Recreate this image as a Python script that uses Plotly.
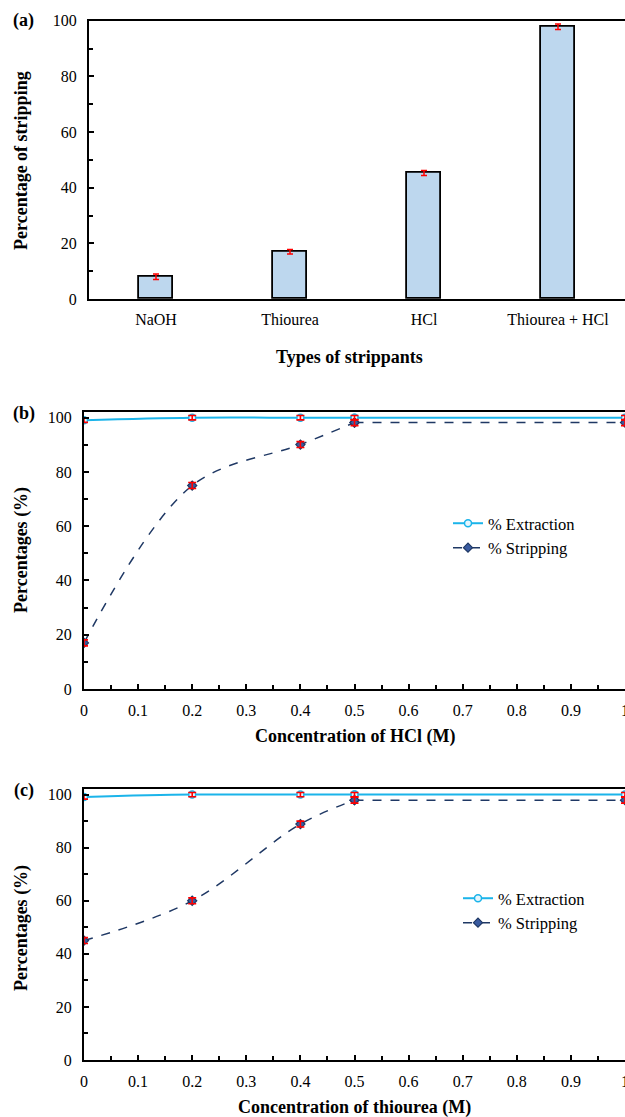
import plotly.graph_objects as go

# ---- data ----
strippants = ["NaOH", "Thiourea", "HCl", "Thiourea + HCl"]
strip_pct = [8.0, 17.0, 45.3, 97.8]
strip_err = [1.0, 0.8, 0.9, 1.0]

conc_hcl = [0, 0.2, 0.4, 0.5, 1.0]
extr_hcl = [99.1, 100.0, 100.0, 100.0, 100.0]
extr_hcl_err = [0.8, 0.8, 0.8, 0.8, 0.8]
strp_hcl = [17.0, 75.0, 90.1, 98.2, 98.2]
strp_hcl_err = [1.1, 1.1, 1.1, 1.1, 1.1]

conc_thio = [0, 0.2, 0.4, 0.5, 1.0]
extr_thio = [99.1, 100.0, 100.0, 100.0, 100.0]
extr_thio_err = [0.8, 0.8, 0.8, 0.8, 0.8]
strp_thio = [45.0, 60.0, 88.9, 97.9, 97.9]
strp_thio_err = [1.1, 1.1, 1.1, 1.1, 1.1]

FONT = "Liberation Serif, Times New Roman, serif"
W, H = 625, 1117
EXT_C = "#1BB4EA"
STR_C = "#1F3864"

def py(p):
    return 1 - p / H

def px(p):
    return p / W

fig = go.Figure()

# (a) bars
fig.add_trace(go.Bar(
    x=strippants, y=strip_pct, width=0.25,
    marker=dict(color="#BDD7EE", line=dict(color="black", width=1.8)),
    error_y=dict(type="data", array=strip_err, color="red", thickness=1.5, width=3),
    showlegend=False, xaxis="x", yaxis="y"))

def series(xv, yv, name, line, marker, xa, ya, leg):
    # smooth part (0 .. 0.5)
    fig.add_trace(go.Scatter(
        x=xv[:4], y=yv[:4], mode="lines+markers", name=name,
        line=dict(shape="spline", **line), marker=marker,
        xaxis=xa, yaxis=ya, legend=leg))
    # plateau part (0.5 .. 1)
    fig.add_trace(go.Scatter(
        x=xv[3:], y=yv[3:], mode="lines+markers", name=name, showlegend=False,
        line=dict(shape="spline", **line), marker=marker,
        xaxis=xa, yaxis=ya, legend=leg))

def errbars(xv, yv, ev, xa, ya):
    fig.add_trace(go.Scatter(
        x=xv, y=yv, mode="markers", showlegend=False, hoverinfo="skip",
        marker=dict(size=1, color="rgba(0,0,0,0)"),
        error_y=dict(type="data", array=ev, color="red", thickness=1.6, width=4),
        xaxis=xa, yaxis=ya))

ext_line = dict(color=EXT_C, width=2)
ext_marker = dict(symbol="circle", size=7, color="#E6F6FD", line=dict(color=EXT_C, width=1.5))
str_line = dict(color=STR_C, width=1.5, dash="dash")
str_marker = dict(symbol="diamond", size=7, color="#3A5BA0", line=dict(color=STR_C, width=1.2))

series(conc_hcl, extr_hcl, "% Extraction", ext_line, ext_marker, "x2", "y2", "legend")
series(conc_hcl, strp_hcl, "% Stripping", str_line, str_marker, "x2", "y2", "legend")
series(conc_thio, extr_thio, "% Extraction", ext_line, ext_marker, "x3", "y3", "legend2")
series(conc_thio, strp_thio, "% Stripping", str_line, str_marker, "x3", "y3", "legend2")
errbars(conc_hcl, extr_hcl, extr_hcl_err, "x2", "y2")
errbars(conc_hcl, strp_hcl, strp_hcl_err, "x2", "y2")
errbars(conc_thio, extr_thio, extr_thio_err, "x3", "y3")
errbars(conc_thio, strp_thio, strp_thio_err, "x3", "y3")

tickfont = dict(family=FONT, size=16, color="black")
ax_common = dict(showgrid=False, zeroline=False, showline=True, linecolor="black",
                 linewidth=2, ticks="inside", ticklen=5, tickwidth=1.5, tickcolor="black",
                 tickfont=tickfont, automargin=False, ticklabeloverflow="allow")
minor_y = dict(ticks="inside", ticklen=4, tickcolor="black", tickwidth=1.5)

fig.update_layout(
    width=W, height=H, margin=dict(l=0, r=0, t=0, b=0),
    paper_bgcolor="white", plot_bgcolor="white",
    font=dict(family=FONT, color="black"),
    bargap=0,
    xaxis=dict(**{**ax_common, "ticks": ""}, domain=[px(89), 1], anchor="y",
               range=[-0.5, 3.5], mirror=True, ticklabelstandoff=5),
    yaxis=dict(**ax_common, domain=[py(299), py(20.7)], anchor="x",
               range=[0, 100], dtick=20, ticklabelstandoff=7,
               minor=dict(dtick=10, **minor_y)),
    xaxis2=dict(**ax_common, domain=[px(84), 1], anchor="y2", range=[0, 1], dtick=0.1,
                mirror=True, ticklabelstandoff=6,
                minor=dict(dtick=0.05, **minor_y)),
    yaxis2=dict(**ax_common, domain=[py(689), py(412.3)], anchor="x2", range=[0, 102],
                tickvals=[0, 20, 40, 60, 80, 100], ticklabelstandoff=7,
                minor=dict(tickvals=[10, 30, 50, 70, 90], **minor_y)),
    xaxis3=dict(**ax_common, domain=[px(84), 1], anchor="y3", range=[0, 1], dtick=0.1,
                mirror=True, ticklabelstandoff=6,
                minor=dict(dtick=0.05, **minor_y)),
    yaxis3=dict(**ax_common, domain=[py(1060), py(789.3)], anchor="x3", range=[0, 102],
                tickvals=[0, 20, 40, 60, 80, 100], ticklabelstandoff=7,
                minor=dict(tickvals=[10, 30, 50, 70, 90], **minor_y)),
    legend=dict(x=px(448), y=py(506), xanchor="left", yanchor="top",
                font=dict(family=FONT, size=16.5, color="black"), bgcolor="rgba(0,0,0,0)",
                tracegroupgap=0, itemwidth=30),
    legend2=dict(x=px(458), y=py(881), xanchor="left", yanchor="top",
                 font=dict(family=FONT, size=16.5, color="black"), bgcolor="rgba(0,0,0,0)",
                 tracegroupgap=0, itemwidth=30),
)

def ann(text, x, y, size=18, angle=0, bold=True):
    fig.add_annotation(text=("<b>%s</b>" % text) if bold else text,
                       x=px(x), y=py(y), xref="paper", yref="paper",
                       showarrow=False, textangle=angle,
                       font=dict(family=FONT, size=size, color="black"),
                       xanchor="center", yanchor="middle")

ann("(a)", 24, 21)
ann("(b)", 24, 414)
ann("(c)", 24, 790)
ann("Percentage of stripping", 21, 161, angle=-90)
ann("Types of strippants", 349, 357)
ann("Percentages (%)", 21, 550, angle=-90)
ann("Concentration of HCl (M)", 355, 736)
ann("Percentages (%)", 21, 928, angle=-90)
ann("Concentration of thiourea (M)", 355, 1107)

fig.write_html("out.html", config={"displayModeBar": False},
               post_script="document.body.style.margin='0';document.body.style.overflow='hidden';")
